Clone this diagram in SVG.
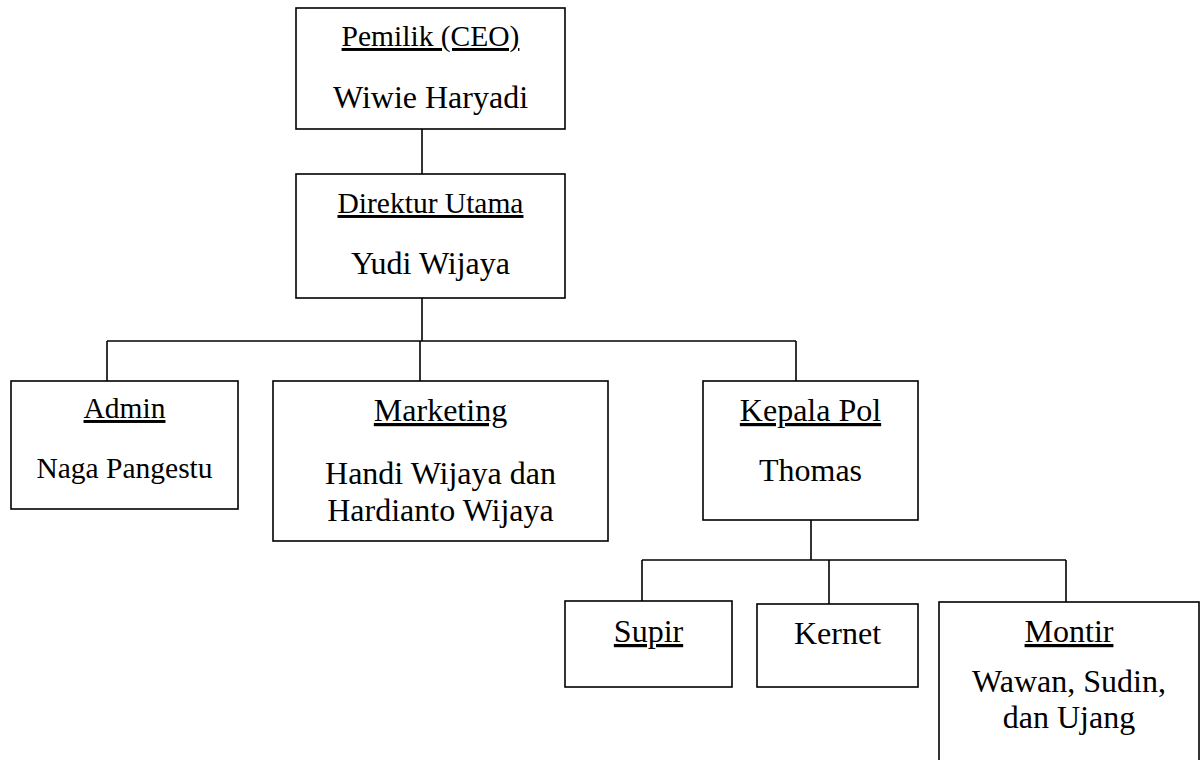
<svg xmlns="http://www.w3.org/2000/svg" width="1204" height="760" viewBox="0 0 1204 760">
<style>
rect.box{fill:#fff;stroke:#000;stroke-width:1.6}
#connectors line{stroke:#000;stroke-width:1.6}
text{font-family:"Liberation Serif","Times New Roman",serif;font-size:32px;fill:#000;text-anchor:middle}
text.h{text-decoration:underline}
text.s{font-size:29.5px}
</style>
<rect width="1204" height="760" fill="#fff"/>
<g id="connectors">
<line x1="422" y1="129" x2="422" y2="174"/>
<line x1="422" y1="298" x2="422" y2="341"/>
<line x1="107" y1="341" x2="796" y2="341"/>
<line x1="107" y1="341" x2="107" y2="381"/>
<line x1="420" y1="341" x2="420" y2="381"/>
<line x1="796" y1="341" x2="796" y2="381"/>
<line x1="811" y1="520" x2="811" y2="560"/>
<line x1="642" y1="560" x2="1066" y2="560"/>
<line x1="642" y1="560" x2="642" y2="601"/>
<line x1="829" y1="560" x2="829" y2="604"/>
<line x1="1066" y1="560" x2="1066" y2="602"/>
</g>
<g id="ceo">
<rect class="box" x="296" y="8" width="269" height="121"/>
<text class="h s" x="430.5" y="46">Pemilik (CEO)</text>
<text x="430.5" y="108">Wiwie Haryadi</text>
</g>
<g id="direktur">
<rect class="box" x="296" y="174" width="269" height="124"/>
<text class="h s" x="430.5" y="213">Direktur Utama</text>
<text x="430.5" y="274">Yudi Wijaya</text>
</g>
<g id="admin">
<rect class="box" x="11" y="381" width="227" height="128"/>
<text class="h s" x="124.5" y="418">Admin</text>
<text class="s" x="124.5" y="478">Naga Pangestu</text>
</g>
<g id="marketing">
<rect class="box" x="273" y="381" width="335" height="160"/>
<text class="h" x="440.5" y="421">Marketing</text>
<text x="440.5" y="484">Handi Wijaya dan</text>
<text x="440.5" y="521">Hardianto Wijaya</text>
</g>
<g id="kepala">
<rect class="box" x="703" y="381" width="215" height="139"/>
<text class="h" x="810.5" y="421">Kepala Pol</text>
<text x="810.5" y="481">Thomas</text>
</g>
<g id="supir">
<rect class="box" x="565" y="601" width="167" height="86"/>
<text class="h" x="648.5" y="642">Supir</text>
</g>
<g id="kernet">
<rect class="box" x="757" y="604" width="161" height="83"/>
<text x="837.5" y="644">Kernet</text>
</g>
<g id="montir">
<rect class="box" x="939" y="602" width="260" height="170"/>
<text class="h" x="1069" y="642">Montir</text>
<text x="1069" y="692">Wawan, Sudin,</text>
<text x="1069" y="728">dan Ujang</text>
</g>
</svg>
